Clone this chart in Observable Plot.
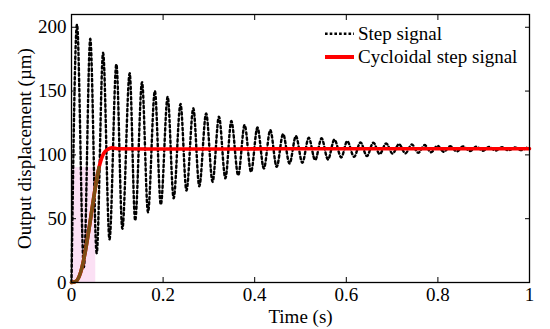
<!DOCTYPE html>
<html><head><meta charset="utf-8">
<script src="https://cdn.jsdelivr.net/npm/d3@7"></script>
<script src="https://cdn.jsdelivr.net/npm/@observablehq/plot@0.6"></script>
<style>
body{margin:0;background:#fff;}
#wrap{position:relative;width:550px;height:329px;font-family:'Liberation Serif',serif;color:#000;}
.leg{position:absolute;left:325px;height:19px;white-space:nowrap;font-size:19px;line-height:19px;}
.leg svg{position:absolute;left:0;top:0;overflow:visible;}
.leg span{position:absolute;left:33px;top:0;}
</style></head><body><div id="wrap"></div>
<script>
// Step signal: alternating extremes (peak, trough, ...)
const stepTimes = [0,
  0.012,0.027,0.041,0.055,0.069,0.083,0.098,0.111,0.127,0.139,0.154,0.167,0.182,0.195,0.210,0.223,
  0.238,0.251,0.266,0.279,0.294,0.308,0.322,0.336,0.349,0.364,0.378,0.392,0.406,0.420,0.434,0.448,
  0.462,0.476,0.490,0.504,0.518,0.532,0.546,0.560,0.574,0.589,0.602,0.617,0.631,0.645,0.659,0.673,
  0.687,0.701,0.715,0.729,0.743,0.757,0.771,0.785,0.799,0.813,0.827,0.841,0.855,0.870,0.884,0.898,
  0.912,0.926,0.940,0.954,0.968,0.982,0.996,1.0];
const stepValues = [0,
  202,12,191,23,180,33.8,171,42,164,48.6,157,55,150,61,145.5,66,
  140,72,136.5,75.4,132.5,78.8,130,81.6,126.5,84,123.4,86.7,121.5,89.3,119.4,90.6,
  116.3,93.2,114.7,93.8,113.4,95.9,113,96.4,112,98,110.8,98.5,109.8,99,109.6,100.6,
  109,101,108.4,101.2,108.2,101.6,107.7,102,107.1,102.4,106.8,102.7,106.6,103,106.4,103.2,
  106.2,103.4,106,103.6,105.8,103.7,105.7,105];

// Cycloidal step signal
const cycloidTimes  = [0,0.01,0.02,0.03,0.04,0.05,0.06,0.07,0.08,0.088,0.1,0.2,0.3,0.4,0.5,0.6,0.7,0.8,0.9,1.0];
const cycloidValues = [0,1,8,24,46,70,90,101,104.5,105.5,104.8,104.6,104.6,104.7,104.8,104.8,104.8,104.8,104.8,104.8];
const brownEnd = 0.06;

// Pink shaded patch
const shadeSpan = [0, 0.053];
const shadeTop = 90;

const xTicks = [0,0.2,0.4,0.6,0.8,1];
const yTicks = [0,50,100,150,200];
const xLabel = "Time (s)";
const yLabel = "Output displacement (\u00b5m)";
const legendLabels = ["Step signal","Cycloidal step signal"];

const stepData = stepTimes.map((t,i)=>({t, v: stepValues[i]}));
const cycData = cycloidTimes.map((t,i)=>({t, v: cycloidValues[i]}));
const brownData = cycData.filter(d => d.t <= brownEnd);
const shadeData = [{x1: shadeSpan[0], x2: shadeSpan[1], y1: 0, y2: shadeTop}];

const chart = Plot.plot({
  width: 550, height: 329,
  marginLeft: 71, marginRight: 21, marginTop: 14, marginBottom: 47,
  x: {domain: [0,1]},
  y: {domain: [0,210]},
  style: {fontFamily: "'Liberation Serif',serif", fontSize: "19px", background: "white", overflow: "visible"},
  marks: [
    Plot.rect(shadeData, {x1: "x1", x2: "x2", y1: "y1", y2: "y2", fill: "#fbe0f4"}),
    Plot.line(stepData, {x: "t", y: "v", curve: "monotone-x", stroke: "black", strokeWidth: 2.4, strokeDasharray: "2.4,2.8"}),
    Plot.line(cycData, {x: "t", y: "v", curve: "monotone-x", stroke: "#ff0000", strokeWidth: 3.6}),
    Plot.line(brownData, {x: "t", y: "v", curve: "monotone-x", stroke: "#7d4e14", strokeWidth: 3.6}),
    Plot.frame({stroke: "black", strokeWidth: 1.3}),
    Plot.axisX(xTicks, {anchor: "bottom", tickSize: -5, tickFormat: () => "", label: null}),
    Plot.axisX(xTicks, {anchor: "top", tickSize: -5, tickFormat: () => "", label: null}),
    Plot.axisY(yTicks, {anchor: "left", tickSize: -5, tickFormat: () => "", label: null}),
    Plot.axisY(yTicks, {anchor: "right", tickSize: -5, tickFormat: () => "", label: null}),
    Plot.axisX(xTicks, {anchor: "bottom", tickSize: 0, tickPadding: 5, tickFormat: d => String(d), label: xLabel, labelAnchor: "center", labelArrow: "none", labelOffset: 40}),
    Plot.axisY(yTicks, {anchor: "left", tickSize: 0, tickPadding: 5, tickFormat: d => String(d), label: yLabel, labelAnchor: "center", labelArrow: "none", labelOffset: 54})
  ]
});
const wrap = document.getElementById("wrap");
wrap.appendChild(chart);

const legendStyles = [
  {top: 23.6, stroke: "black", width: 2.6, dash: "2.6,2.1", lineY: 9.7},
  {top: 47.4, stroke: "#ff0000", width: 4, dash: null, lineY: 10}
];
legendLabels.forEach((lab, i) => {
  const s = legendStyles[i];
  const div = document.createElement("div");
  div.className = "leg";
  div.style.top = s.top + "px";
  div.innerHTML = `<svg width="30" height="19"><line x1="0" x2="29" y1="${s.lineY}" y2="${s.lineY}" stroke="${s.stroke}" stroke-width="${s.width}" ${s.dash ? `stroke-dasharray="${s.dash}"` : ""}/></svg><span></span>`;
  div.querySelector("span").textContent = lab;
  wrap.appendChild(div);
});
</script></body></html>
